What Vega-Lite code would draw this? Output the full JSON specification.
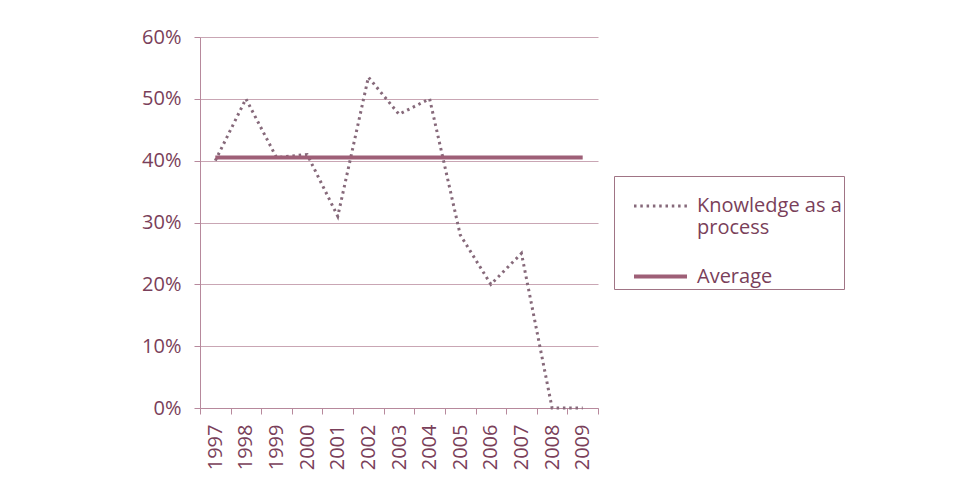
{
  "$schema": "https://vega.github.io/schema/vega-lite/v6.json",
  "width": 398,
  "height": 371,
  "autosize": {"type": "none"},
  "padding": {"left": 200, "top": 37, "right": 373, "bottom": 70},
  "background": "white",
  "config": {"view": {"stroke": null}, "font": "Open Sans"},
  "data": {
    "values": [
      {"year": "1997", "value": 0.40, "series": "Knowledge as a process"},
      {"year": "1998", "value": 0.50, "series": "Knowledge as a process"},
      {"year": "1999", "value": 0.405, "series": "Knowledge as a process"},
      {"year": "2000", "value": 0.41, "series": "Knowledge as a process"},
      {"year": "2001", "value": 0.31, "series": "Knowledge as a process"},
      {"year": "2002", "value": 0.535, "series": "Knowledge as a process"},
      {"year": "2003", "value": 0.475, "series": "Knowledge as a process"},
      {"year": "2004", "value": 0.50, "series": "Knowledge as a process"},
      {"year": "2005", "value": 0.28, "series": "Knowledge as a process"},
      {"year": "2006", "value": 0.20, "series": "Knowledge as a process"},
      {"year": "2007", "value": 0.25, "series": "Knowledge as a process"},
      {"year": "2008", "value": 0.0, "series": "Knowledge as a process"},
      {"year": "2009", "value": 0.0, "series": "Knowledge as a process"},
      {"year": "1997", "value": 0.405, "series": "Average"},
      {"year": "2009", "value": 0.405, "series": "Average"}
    ]
  },
  "mark": {"type": "line"},
  "encoding": {
    "x": {
      "field": "year",
      "type": "ordinal",
      "bandPosition": 0.5,
      "scale": {"type": "band", "paddingInner": 0, "paddingOuter": 0},
      "axis": {
        "title": null,
        "tickBand": "extent",
        "labelAngle": -90,
        "labelAlign": "right",
        "labelBaseline": "middle",
        "labelFontSize": 20,
        "labelColor": "#7a3f5a",
        "labelPadding": 10,
        "domainColor": "#b7899c",
        "tickColor": "#b7899c",
        "tickSize": 6,
        "grid": false
      }
    },
    "y": {
      "field": "value",
      "type": "quantitative",
      "scale": {"domain": [0, 0.6], "nice": false},
      "axis": {
        "title": null,
        "format": ".0%",
        "values": [0, 0.1, 0.2, 0.3, 0.4, 0.5, 0.6],
        "labelFontSize": 20,
        "labelColor": "#7a3f5a",
        "labelPadding": 13,
        "domainColor": "#b7899c",
        "tickColor": "#b7899c",
        "tickSize": 6,
        "gridColor": "#c9a6b4",
        "gridWidth": 1.2
      }
    },
    "color": {
      "field": "series",
      "type": "nominal",
      "scale": {"domain": ["Knowledge as a process", "Average"], "range": ["#86697a", "#9e5f77"]},
      "legend": {
        "title": null,
        "orient": "none",
        "legendX": 414,
        "legendY": 139,
        "strokeColor": "#a07485",
        "padding": 2,
        "symbolType": "stroke",
        "symbolSize": 2809,
        "symbolOffset": 16,
        "labelFontSize": 20,
        "labelColor": "#7a3f5a",
        "labelOffset": 8,
        "rowPadding": 10,
        "labelLimit": 220,
        "labelExpr": "datum.label == 'Knowledge as a process' ? ['Knowledge as a', 'process'] : datum.label"
      }
    },
    "strokeDash": {
      "field": "series",
      "type": "nominal",
      "scale": {"domain": ["Knowledge as a process", "Average"], "range": [[2.5, 3.8], [1, 0]]},
      "legend": null
    },
    "strokeWidth": {
      "field": "series",
      "type": "nominal",
      "scale": {"domain": ["Knowledge as a process", "Average"], "range": [3, 4]},
      "legend": null
    }
  }
}
